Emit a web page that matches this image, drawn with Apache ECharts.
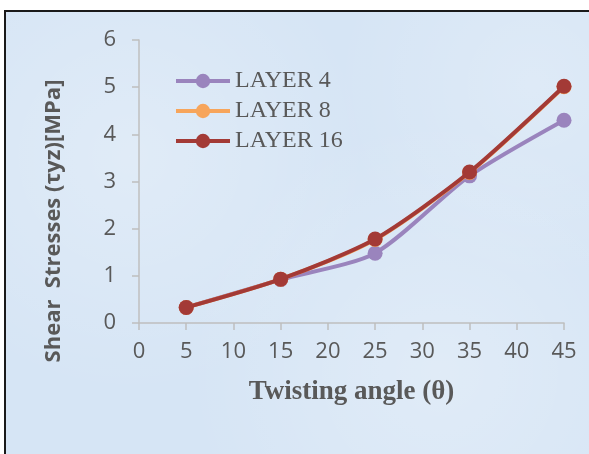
<!DOCTYPE html>
<html>
<head>
<meta charset="utf-8">
<script src="https://cdn.jsdelivr.net/npm/echarts@6/dist/echarts.min.js"></script>
<style>
  html, body { margin: 0; padding: 0; background: #ffffff; }
  #frame {
    position: absolute; left: 4px; top: 10px; width: 620px; height: 480px;
    border-left: 2px solid #1a1a1a; border-top: 2px solid #1a1a1a;
    background-color: #d6e5f5;
    background-image:
      radial-gradient(circle at 20% 30%, rgba(255,255,255,0.25), rgba(255,255,255,0) 40%),
      radial-gradient(circle at 70% 75%, rgba(255,255,255,0.25), rgba(255,255,255,0) 45%),
      radial-gradient(circle at 85% 15%, rgba(255,255,255,0.2), rgba(255,255,255,0) 30%);
  }
  #chart { position: absolute; left: 0; top: 0; width: 589px; height: 454px; }
</style>
</head>
<body>
<div id="frame"></div>
<div id="chart"></div>
<script>
const angles = [5, 15, 25, 35, 45];
const layer4 = [0.33, 0.92, 1.48, 3.12, 4.30];
const layer8 = [0.33, 0.93, 1.77, 3.19, 5.01];
const layer16 = [0.33, 0.93, 1.78, 3.20, 5.02];
const seriesNames = ['LAYER 4', 'LAYER 8', 'LAYER 16'];
const seriesColors = ['#9a84bd', '#f7a55b', '#a33a36'];
const xTitle = 'Twisting angle (θ)';
const yTitle = 'Shear  Stresses (τyz)[MPa]';

const values = [layer4, layer8, layer16];
const chart = echarts.init(document.getElementById('chart'), null, { renderer: 'canvas' });
const axisColor = '#bfbfbf';
const labelColor = '#595959';
chart.setOption({
  backgroundColor: 'transparent',
  animation: false,
  grid: { left: 139, right: 25, top: 40, bottom: 131, containLabel: false },
  legend: {
    orient: 'vertical',
    left: 174, top: 69, padding: 0,
    itemWidth: 54, itemHeight: 18, itemGap: 6,
    lineStyle: { width: 4 },
    textStyle: { fontFamily: 'Liberation Serif', fontSize: 24, color: labelColor, lineHeight: 24 },
    data: seriesNames
  },
  xAxis: {
    type: 'value', min: 0, max: 45, interval: 5,
    name: xTitle, nameLocation: 'middle', nameGap: 56,
    nameTextStyle: { fontFamily: 'Liberation Serif', fontWeight: 'bold', fontSize: 27, color: labelColor },
    axisLine: { show: true, lineStyle: { color: axisColor, width: 1.5 } },
    axisTick: { show: true, length: 7, lineStyle: { color: axisColor, width: 1.5 } },
    axisLabel: { fontFamily: 'Open Sans', fontSize: 22, color: labelColor, margin: 18 },
    splitLine: { show: false }
  },
  yAxis: {
    type: 'value', min: 0, max: 6, interval: 1,
    axisLine: { show: true, lineStyle: { color: axisColor, width: 1.5 } },
    axisTick: { show: true, length: 7, lineStyle: { color: axisColor, width: 1.5 } },
    axisLabel: { fontFamily: 'Open Sans', fontSize: 22, color: labelColor, margin: 23 },
    splitLine: { show: false }
  },
  graphic: [{
    type: 'text',
    x: 54, y: 221,
    rotation: Math.PI / 2,
    style: {
      text: yTitle,
      font: 'bold 22px "Open Sans"',
      fill: labelColor,
      textAlign: 'center',
      textVerticalAlign: 'middle'
    }
  }],
  series: seriesNames.map((name, i) => ({
    name: name,
    type: 'line',
    smooth: 0.25,
    symbol: 'circle',
    symbolSize: 15,
    z: 2 + i,
    itemStyle: { color: seriesColors[i] },
    lineStyle: { color: seriesColors[i], width: 4 },
    data: angles.map((a, j) => [a, values[i][j]])
  }))
});
</script>
</body>
</html>
